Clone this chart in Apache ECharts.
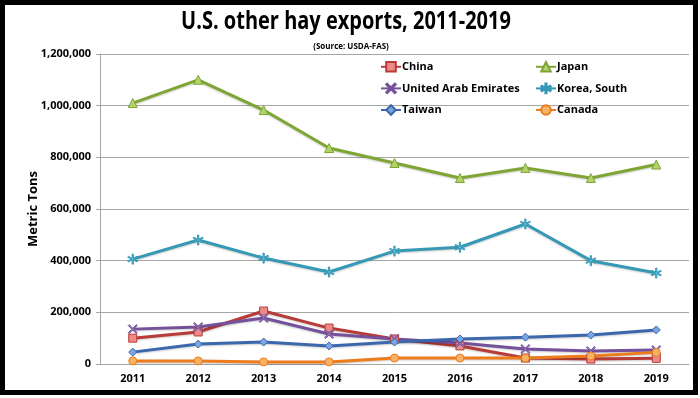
<!DOCTYPE html>
<html>
<head>
<meta charset="utf-8">
<script src="https://cdn.jsdelivr.net/npm/echarts@6/dist/echarts.min.js"></script>
<style>
  html, body { margin: 0; padding: 0; background: #fff; }
  #chart { width: 700px; height: 398px; }
</style>
</head>
<body>
<div id="chart"></div>
<script>
const years = ['2011', '2012', '2013', '2014', '2015', '2016', '2017', '2018', '2019']

// metric tons
const china = [100000, 124000, 205000, 139000, 97000, 70000, 23000, 19000, 22000]
const japan = [1010000, 1100000, 983000, 836000, 778000, 720000, 759000, 720000, 772000]
const uae = [135000, 143000, 178000, 116000, 97000, 81000, 58000, 50000, 54000]
const korea = [406000, 480000, 410000, 356000, 437000, 452000, 542000, 400000, 352000]
const taiwan = [46000, 77000, 85000, 70000, 85000, 97000, 104000, 112000, 132000]
const canada = [12000, 12000, 8000, 8000, 23000, 23000, 23000, 31000, 45000]

const font = '"Open Sans", "Liberation Sans", sans-serif'

const xMark = 'path://M1,0L5,4L9,0L10,1L6,5L10,9L9,10L5,6L1,10L0,9L4,5L0,1Z'
const starMark = 'path://M4.4,0H5.6V4.2L9.2,2.2L9.8,3.2L6.2,5L9.8,6.8L9.2,7.8L5.6,5.8V10H4.4V5.8L0.8,7.8L0.2,6.8L3.8,5L0.2,3.2L0.8,2.2L4.4,4.2Z'

const chart = echarts.init(document.getElementById('chart'))

function makeSeries(name, data, color, fill, symbol, size) {
  return {
    name: name,
    type: 'line',
    data: data,
    symbol: symbol,
    symbolSize: size,
    showSymbol: true,
    lineStyle: {
      color: color,
      width: 3,
      shadowColor: 'rgba(0,0,0,0.2)',
      shadowBlur: 2,
      shadowOffsetY: 1
    },
    itemStyle: {
      color: fill,
      borderColor: color,
      borderWidth: 1
    }
  }
}

const legendText = { fontFamily: font, fontSize: 11, fontWeight: 'bold', color: '#000', padding: [0, 0, 0, -4] }

const option = {
  backgroundColor: '#fff',
  animation: false,
  title: {
    text: '(Source: USDA-FAS)',
    left: 346,
    textAlign: 'center',
    top: 38,
    textStyle: {
      fontFamily: font,
      fontSize: 8,
      fontWeight: 'bold',
      color: '#000'
    }
  },
  legend: [
    {
      data: ['China', 'United Arab Emirates', 'Taiwan'],
      orient: 'vertical',
      left: 375,
      top: 56,
      itemGap: 10,
      itemWidth: 20,
      itemHeight: 12,
      textStyle: legendText
    },
    {
      data: ['Japan', 'Korea, South', 'Canada'],
      orient: 'vertical',
      left: 530,
      top: 56,
      itemGap: 10,
      itemWidth: 20,
      itemHeight: 12,
      textStyle: legendText
    }
  ],
  grid: {
    left: 100,
    right: 11,
    top: 54,
    bottom: 34
  },
  xAxis: {
    type: 'category',
    data: years,
    boundaryGap: true,
    axisLine: { lineStyle: { color: '#a6a6a6', width: 1 } },
    axisTick: { show: false },
    axisLabel: {
      fontFamily: font,
      fontSize: 11,
      fontWeight: 'bold',
      color: '#000',
      margin: 9
    }
  },
  yAxis: {
    type: 'value',
    min: 0,
    max: 1200000,
    interval: 200000,
    name: 'Metric Tons',
    nameLocation: 'middle',
    nameGap: 60,
    nameMoveOverlap: false,
    nameTextStyle: {
      fontFamily: font,
      fontSize: 13,
      fontWeight: 'bold',
      color: '#000'
    },
    axisLine: { show: true, lineStyle: { color: '#a6a6a6', width: 1 } },
    axisTick: { show: true, length: 4, lineStyle: { color: '#a6a6a6' } },
    splitLine: { lineStyle: { color: '#a6a6a6', width: 1 } },
    axisLabel: {
      fontFamily: font,
      fontSize: 11,
      fontWeight: 'bold',
      color: '#000',
      margin: 9,
      formatter: v => v.toLocaleString('en-US')
    }
  },
  graphic: [
    {
      type: 'text',
      silent: true,
      x: 346,
      y: 22,
      scaleX: 0.8,
      style: {
        text: 'U.S. other hay exports, 2011-2019',
        font: 'bold 25px "Open Sans", "Liberation Sans", sans-serif',
        fill: '#000',
        align: 'center',
        verticalAlign: 'middle'
      }
    },
    {
      type: 'rect',
      silent: true,
      z: 100,
      shape: { x: 2.5, y: 2.5, width: 693, height: 390 },
      style: { fill: null, stroke: '#000', lineWidth: 5 }
    }
  ],
  series: [
    makeSeries('China', china, '#b93b37', '#ec8a88', 'rect', 8),
    makeSeries('Japan', japan, '#7fa534', '#b2d36a', 'triangle', 9),
    makeSeries('United Arab Emirates', uae, '#74519a', '#9a7cc0', xMark, 9),
    makeSeries('Korea, South', korea, '#3599b5', '#6cc4dc', starMark, 10),
    makeSeries('Taiwan', taiwan, '#3b68ad', '#7aa5e0', 'diamond', 8),
    makeSeries('Canada', canada, '#ec7c1c', '#f8b266', 'circle', 8)
  ]
}

chart.setOption(option)
</script>
</body>
</html>
